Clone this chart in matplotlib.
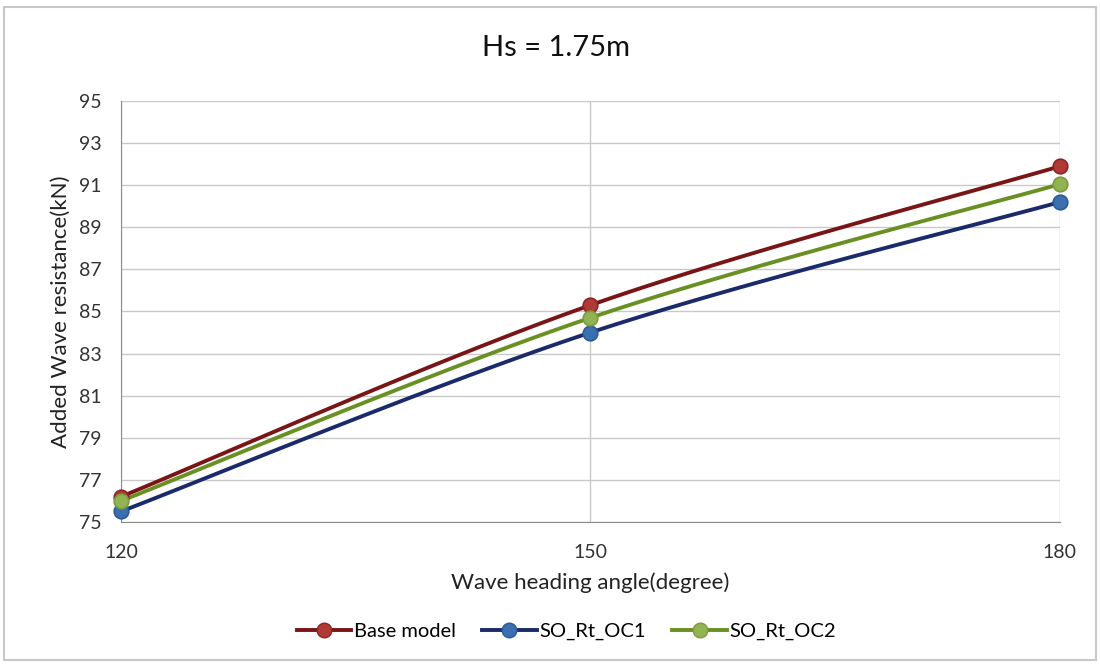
import numpy as np
import matplotlib
matplotlib.use("Agg")
import matplotlib.pyplot as plt
from matplotlib.patches import Rectangle
from matplotlib.lines import Line2D

plt.rcParams['font.family'] = ['Lato', 'DejaVu Sans']

angles = [120, 150, 180]
base_model = [76.2, 85.3, 91.9]
so_rt_oc1 = [75.5, 84.0, 90.2]
so_rt_oc2 = [76.0, 84.7, 91.05]
series_names = ["Base model", "SO_Rt_OC1", "SO_Rt_OC2"]
y_ticks = [75, 77, 79, 81, 83, 85, 87, 89, 91, 93, 95]
x_ticks = [120, 150, 180]

line_colors = ["#7a1517", "#1b2a6b", "#6a8f23"]
marker_faces = ["#b03a36", "#3c6fb0", "#92b352"]
marker_edges = ["#8c2522", "#2b5a96", "#7a9b3e"]


def smooth(xs, ys, n=60, tension=1/6):
    """Cubic Bezier smoothing through the points (spreadsheet-style curves)."""
    xs = np.asarray(xs, float)
    ys = np.asarray(ys, float)
    px, py = [], []
    m = len(xs)
    for i in range(m - 1):
        x0, y0 = (xs[i - 1], ys[i - 1]) if i > 0 else (xs[i], ys[i])
        x1, y1 = xs[i], ys[i]
        x2, y2 = xs[i + 1], ys[i + 1]
        x3, y3 = (xs[i + 2], ys[i + 2]) if i + 2 < m else (xs[i + 1], ys[i + 1])
        c1x = x1 + (x2 - x0) * tension
        c1y = y1 + (y2 - y0) * tension
        c2x = x2 - (x3 - x1) * tension
        c2y = y2 - (y3 - y1) * tension
        t = np.linspace(0, 1, n)
        bx = (1 - t) ** 3 * x1 + 3 * (1 - t) ** 2 * t * c1x + 3 * (1 - t) * t ** 2 * c2x + t ** 3 * x2
        by = (1 - t) ** 3 * y1 + 3 * (1 - t) ** 2 * t * c1y + 3 * (1 - t) * t ** 2 * c2y + t ** 3 * y2
        px.extend(bx)
        py.extend(by)
    return np.array(px), np.array(py)


fig = plt.figure(figsize=(11, 6.64), dpi=100)
fig.patches.append(Rectangle((0.004, 0.006), 0.992, 0.984, transform=fig.transFigure,
                             fill=False, edgecolor="#c8c8c8", linewidth=1.5))

ax = fig.add_axes([0.110, 0.2139, 0.8536, 0.634])

for vals, name, lc, mf, me in zip([base_model, so_rt_oc1, so_rt_oc2], series_names,
                                  line_colors, marker_faces, marker_edges):
    sx, sy = smooth(angles, vals)
    ax.plot(sx, sy, color=lc, linewidth=2.8, solid_capstyle="round", zorder=3)
    ax.plot(angles, vals, linestyle="none", marker="o", markersize=10.5,
            markerfacecolor=mf, markeredgecolor=me, markeredgewidth=1.2, zorder=4,
            clip_on=False)

ax.set_xlim(120, 180)
ax.set_ylim(75, 95)
ax.set_xticks(x_ticks)
ax.set_yticks(y_ticks)
ax.grid(True, color="#c9c9c9", linewidth=1)
ax.set_axisbelow(True)
for side in ["top", "right"]:
    ax.spines[side].set_visible(False)
ax.spines["left"].set_color("#8c8c8c")
ax.spines["bottom"].set_color("#8c8c8c")
ax.tick_params(axis="both", length=0, labelsize=14, colors="#333333")
ax.tick_params(axis="y", pad=14)
ax.tick_params(axis="x", pad=16)

ax.set_xlabel("Wave heading angle(degree)", fontsize=16, color="#222222", labelpad=8)
ax.set_ylabel("Added Wave resistance(kN)", fontsize=16, color="#222222", labelpad=6)
fig.text(0.505, 0.928, "Hs = 1.75m", ha="center", va="center", fontsize=21, color="#111111")

handles = [Line2D([0], [0], color=lc, linewidth=2.8, marker="o", markersize=10.5,
                  markerfacecolor=mf, markeredgecolor=me)
           for lc, mf, me in zip(line_colors, marker_faces, marker_edges)]
fig.legend(handles, series_names, loc="center", bbox_to_anchor=(0.515, 0.049), ncol=3,
           frameon=False, fontsize=14.5, handlelength=2.7, columnspacing=1.3, handletextpad=0.15)

fig.savefig("out.png", dpi=100)
